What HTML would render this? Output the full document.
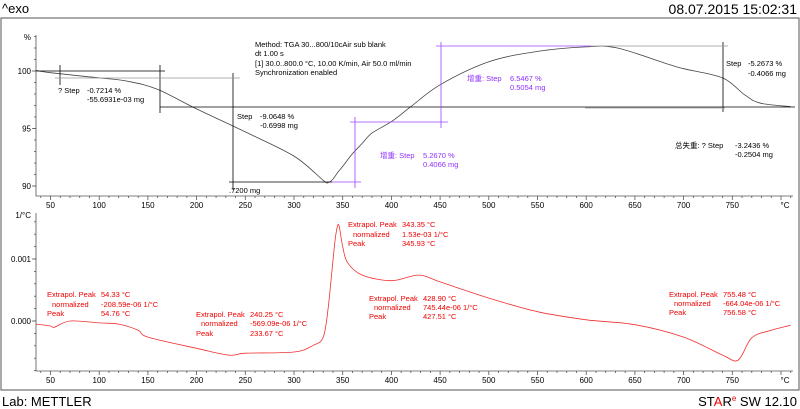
<!DOCTYPE html>
<html><head><meta charset="utf-8"><style>
html,body{margin:0;padding:0;background:#fff;width:800px;height:409px;overflow:hidden}
svg{display:block;font-family:"Liberation Sans","Noto Sans CJK SC",sans-serif}
</style></head><body>
<svg id="c" width="800" height="409" viewBox="0 0 800 409">
<text x="2" y="13" font-size="13">^exo</text>
<text x="797" y="14" font-size="14" text-anchor="end">08.07.2015 15:02:31</text>
<rect x="1" y="18" width="798" height="372" fill="none" stroke="#555"/>
<text x="2" y="406" font-size="13">Lab: METTLER</text>
<text x="797" y="406" font-size="13" text-anchor="end"><tspan fill="#000">ST</tspan><tspan fill="#e00">A</tspan><tspan fill="#000">R</tspan><tspan font-size="8" dy="-5" fill="#e00">e</tspan><tspan dy="5"> SW 12.10</tspan></text>
<g id="topg"></g><g id="botg"></g>
<g font-size="7.5">
<g stroke="#000" stroke-width="0.8" fill="none">
<line x1="36" y1="71" x2="165" y2="71"/><line x1="60" y1="65" x2="60" y2="85"/><line x1="160" y1="65" x2="160" y2="113"/>
<line x1="160" y1="107" x2="795" y2="107"/><line x1="233" y1="73" x2="233" y2="190"/><line x1="229" y1="182" x2="332" y2="182"/>
<line x1="723" y1="42" x2="723" y2="112"/>
</g>
<g stroke="#999" stroke-width="0.8"><line x1="55" y1="78" x2="240" y2="78"/><line x1="590" y1="46" x2="728" y2="46"/><line x1="585" y1="108" x2="725" y2="108"/></g>
<g stroke="#a040ff" stroke-width="0.8"><line x1="332" y1="182" x2="361" y2="182"/><line x1="355" y1="117" x2="355" y2="188"/><line x1="350" y1="122" x2="448" y2="122"/><line x1="441" y1="42" x2="441" y2="128"/><line x1="436" y1="46" x2="590" y2="46"/></g>
<text x="255" y="47">Method: TGA 30...800/10cAir sub blank</text>
<text x="255" y="56">dt 1.00 s</text>
<text x="255" y="66">[1] 30.0..800.0 °C, 10.00 K/min, Air 50.0 ml/min</text>
<text x="255" y="75">Synchronization enabled</text>
<text x="58" y="93">? Step</text><text x="87" y="93">-0.7214 %</text><text x="87" y="102">-55.6931e-03 mg</text>
<text x="237" y="119">Step</text><text x="260" y="119">-9.0648 %</text><text x="260" y="128">-0.6998 mg</text>
<text x="229" y="193">.7200 mg</text>
<g fill="#9030ff"><text x="380" y="158">增重: Step</text><text x="423" y="158">5.2670 %</text><text x="423" y="167">0.4066 mg</text>
<text x="467" y="81">增重: Step</text><text x="510" y="81">6.5467 %</text><text x="510" y="90">0.5054 mg</text></g>
<text x="726" y="66">Step</text><text x="748" y="66">-5.2673 %</text><text x="748" y="76">-0.4066 mg</text>
<text x="675" y="148">总失重: ? Step</text><text x="735" y="148">-3.2436 %</text><text x="735" y="157">-0.2504 mg</text>
<g fill="#e00">
<text x="47" y="297">Extrapol. Peak</text><text x="52" y="307">normalized</text><text x="47" y="316">Peak</text>
<text x="101" y="297">54.33 °C</text><text x="101" y="307">-208.59e-06 1/°C</text><text x="101" y="316">54.76 °C</text>
<text x="196" y="317">Extrapol. Peak</text><text x="201" y="326">normalized</text><text x="196" y="336">Peak</text>
<text x="250" y="317">240.25 °C</text><text x="250" y="326">-569.09e-06 1/°C</text><text x="250" y="336">233.67 °C</text>
<text x="348" y="227">Extrapol. Peak</text><text x="353" y="237">normalized</text><text x="348" y="246">Peak</text>
<text x="402" y="227">343.35 °C</text><text x="402" y="237">1.53e-03 1/°C</text><text x="402" y="246">345.93 °C</text>
<text x="369" y="301">Extrapol. Peak</text><text x="374" y="310">normalized</text><text x="369" y="319">Peak</text>
<text x="423" y="301">428.90 °C</text><text x="423" y="310">745.44e-06 1/°C</text><text x="423" y="319">427.51 °C</text>
<text x="669" y="297">Extrapol. Peak</text><text x="674" y="306">normalized</text><text x="669" y="315">Peak</text>
<text x="723" y="297">755.48 °C</text><text x="723" y="306">-664.04e-06 1/°C</text><text x="723" y="315">756.58 °C</text>
</g></g>
</svg>
<script>
const tgaTemps=[35,50,100,130,160,200,250,300,330,335,340,345,350,360,370,380,400,420,450,500,550,600,632,684,700,740,763,779,810];
const tgaValues=[100.05,99.85,99.4,99.1,98.4,96.7,94.7,92.6,90.5,90.3,90.6,91.2,91.7,92.8,93.7,94.6,95.6,96.9,98.8,100.8,101.7,102.1,102.0,100.6,100.2,99.4,97.9,97.2,96.9];
const dtgTemps=[35,50,54,70,100,120,140,150,200,233,250,300,320,330,335,340,343,346,350,355,370,400,428,450,500,550,600,650,700,740,756,770,790,810];
const dtgValues=[-0.05,-0.08,-0.1,0.0,-0.03,-0.05,-0.15,-0.26,-0.44,-0.55,-0.52,-0.5,-0.39,-0.26,0.2,0.98,1.4,1.55,1.2,0.94,0.74,0.65,0.74,0.63,0.37,0.15,0.02,-0.06,-0.26,-0.55,-0.63,-0.27,-0.15,-0.07];
const xTicks=[50,100,150,200,250,300,350,400,450,500,550,600,650,700,750];
const tgaTicks=[90,95,100];
const dtgTicks=[0,1];
const NS='http://www.w3.org/2000/svg';
const X=t=>50.5+(t-50)*0.974;
const Yt=v=>71+(100-v)*11.5;
const Yd=v=>321-v*62;
function mk(p,tag,a){const e=document.createElementNS(NS,tag);for(const k in a)e.setAttribute(k,a[k]);p.appendChild(e);return e;}
function axes(g,y0,y1,ticks,Y,fmt,unit,name){
  const ax=mk(g,'path',{d:`M36 ${y0}V${y1}H793`,stroke:'#555',fill:'none','stroke-width':0.8});
  
  
  for(let t=40;t<=810;t+=10){mk(g,'line',{x1:X(t),x2:X(t),y1:y1,y2:y1+(t%50?2:4),stroke:'#555','stroke-width':0.8});}
  xTicks.forEach(t=>{const tx=mk(g,'text',{x:X(t),y:y1+12,'font-size':8,'text-anchor':'middle'});tx.textContent=t;
    
    });
  const cu=mk(g,'text',{x:785,y:y1+12,'font-size':8,'text-anchor':'middle'});cu.textContent='°C';
  
  
  ticks.forEach(v=>{mk(g,'line',{x1:32,x2:36,y1:Y(v),y2:Y(v),stroke:'#555','stroke-width':0.8});
    const tx=mk(g,'text',{x:31,y:Y(v)+3,'font-size':8,'text-anchor':'end'});tx.textContent=fmt(v);
    
    });
  const u=mk(g,'text',{x:31,y:y0+5,'font-size':8,'text-anchor':'end'});u.textContent=unit;
  
  
}
const topG=document.getElementById('topg'),botG=document.getElementById('botg');
axes(topG,35,196,tgaTicks,Yt,v=>String(v),'%','tga');
for(let v=89;v<=104;v++){const y=Yt(v);if(y>35&&y<196)mk(topG,'line',{x1:34,x2:36,y1:y,y2:y,stroke:'#555','stroke-width':0.8});}
axes(botG,213,371,dtgTicks,Yd,v=>(v/1000).toFixed(3),'1/°C','dtg');
for(let i=-4;i<=8;i++){const y=Yd(i*0.2);if(y>213&&y<371)mk(botG,'line',{x1:34,x2:36,y1:y,y2:y,stroke:'#555','stroke-width':0.8});}
function path(ts,vs,Y){
  const p=ts.map((t,i)=>[X(t),Y(vs[i])]);
  let d='M'+p[0][0].toFixed(1)+' '+p[0][1].toFixed(1);
  for(let i=0;i<p.length-1;i++){
    const p0=p[Math.max(0,i-1)],p1=p[i],p2=p[i+1],p3=p[Math.min(p.length-1,i+2)];
    const c1=[p1[0]+(p2[0]-p0[0])/6,p1[1]+(p2[1]-p0[1])/6];
    const c2=[p2[0]-(p3[0]-p1[0])/6,p2[1]-(p3[1]-p1[1])/6];
    d+='C'+c1.map(v=>v.toFixed(1)).join(' ')+' '+c2.map(v=>v.toFixed(1)).join(' ')+' '+p2[0].toFixed(1)+' '+p2[1].toFixed(1);
  }
  return d;
}
const l1=mk(topG,'path',{d:path(tgaTemps,tgaValues,Yt),fill:'none',stroke:'#444','stroke-width':0.8});


const l2=mk(botG,'path',{d:path(dtgTemps,dtgValues,Yd),fill:'none',stroke:'#f03030','stroke-width':0.8});


</script>
</body></html>
